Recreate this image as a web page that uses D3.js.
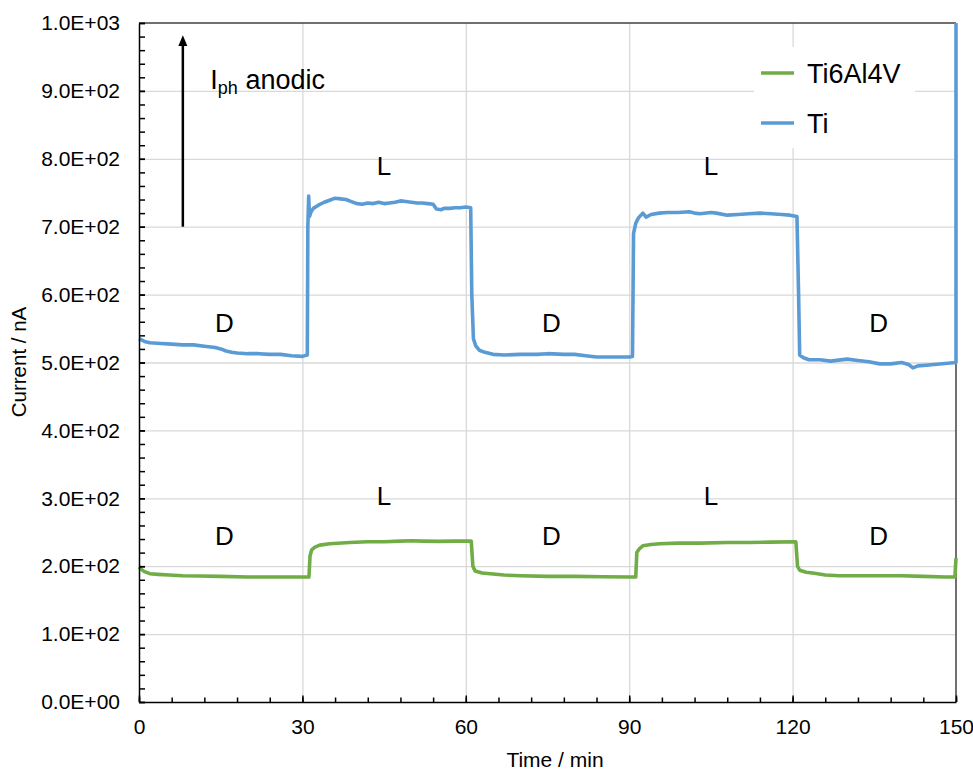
<!DOCTYPE html>
<html>
<head>
<meta charset="utf-8">
<script src="https://cdn.jsdelivr.net/npm/d3@7"></script>
<style>
  body { margin: 0; background: #fff; }
  svg { font-family: "Liberation Sans", Arial, sans-serif; }
</style>
</head>
<body>
<svg id="chart" width="973" height="771"></svg>
<script>
// values
const tiTime = [0, 1, 2, 4, 6, 8, 10, 12, 14, 15, 16, 17, 18, 20, 22, 24, 26, 28, 30, 30.9,
  31.0, 31.15, 31.3, 31.6, 32, 33, 34, 35, 36, 37, 38, 39, 40, 41, 42, 43, 44, 45, 46, 47, 48, 49,
  50, 51, 52, 53, 54, 54.6, 55.5, 56, 57, 58, 59, 60, 60.9, 61.1, 61.4, 61.8, 62.5, 63.5, 65, 67,
  70, 73, 75, 78, 80, 82, 84, 87, 90, 90.6, 90.8, 91.2, 91.7, 92.5, 93.1, 94, 95.5, 97, 99, 101,
  102, 103, 105, 106, 108, 110, 112, 114, 116, 118, 119.5, 120.8, 121.1, 121.3, 122, 123, 125,
  127, 130, 132, 134, 136, 138, 140, 141.3, 142.1, 143, 144.5, 146, 148.5, 150, 150];
const tiCurrent = [535, 531, 529, 528, 527, 526, 526, 524, 522, 520, 517, 515, 514, 513, 513, 512, 512, 510, 509, 511,
  700, 745, 715, 722, 727, 732, 736, 739, 742, 741, 740, 737, 734, 733, 735, 734, 736, 734, 735, 736, 738, 737,
  736, 735, 735, 734, 733, 726, 725, 727, 727, 728, 728, 729, 728, 600, 535, 525, 518, 515, 512, 511,
  512, 512, 513, 512, 512, 510, 508, 508, 508, 509, 690, 705, 713, 720, 714, 718, 720, 721, 721, 722,
  720, 719, 721, 720, 717, 718, 719, 720, 719, 718, 717, 715, 600, 511, 507, 504, 504,
  502, 505, 503, 501, 498, 498, 500, 497, 492, 495, 496, 497, 499, 500, 1000];

const alloyTime = [0, 0.5, 1, 2, 3.5, 5.5, 8, 11, 15, 20, 25, 29, 31.2, 31.4, 31.7, 32.3, 33.2, 35,
  38.7, 42, 45, 48, 50, 52, 55, 58, 61, 61.3, 61.7, 63, 64.5, 67, 70, 75, 80, 85, 90, 91.2, 91.4,
  91.9, 92.5, 94, 95.6, 99, 103, 108, 112, 116, 120.6, 120.9, 121.3, 122.5, 124, 126, 128.6, 132,
  136, 140, 144, 148, 149.8, 150];
const alloyCurrent = [199, 195, 192, 189, 188, 187, 186, 185.5, 185, 184, 184, 184, 184, 215, 224, 228, 231, 233,
  235, 236, 236, 237, 237.5, 237, 236.5, 237, 237, 200, 193, 190, 189, 187, 186, 185, 185, 184.5, 184, 184, 220,
  226, 230, 232, 233, 234, 234, 235, 235, 235.5, 236, 200, 194, 191, 189.5, 187, 186, 186,
  186, 186, 185, 184, 184, 212];

const seriesNames = ["Ti6Al4V", "Ti"];
const seriesColors = ["#70ad47", "#5b9bd5"];

const yMajor = d3.range(0, 1001, 100);
const yMinor = d3.range(0, 1001, 20);
const xMajor = [0, 30, 60, 90, 120, 150];
const xMinor = d3.range(0, 151, 6);

// phase labels: [text, time, current]
const phaseLabels = [
  ["D", 15.7, 545], ["L", 45, 776], ["D", 75.7, 545], ["L", 105, 776], ["D", 135.8, 545],
  ["D", 15.7, 231], ["L", 45, 290], ["D", 75.7, 231], ["L", 105, 290], ["D", 135.8, 231]
];

let svg = d3.select("#chart");
const margin = {left: 139, top: 23, right: 17, bottom: 69};
const width = +svg.attr("width") - margin.left - margin.right;
const height = +svg.attr("height") - margin.top - margin.bottom;

let x = d3.scaleLinear().domain([0, 150]).range([0, width]);
let y = d3.scaleLinear().domain([0, 1000]).range([height, 0]);

let g = svg.append("g").attr("transform", `translate(${margin.left},${margin.top})`);

// grid
g.append("g")
    .attr("class", "grid")
    .call(d3.axisLeft(y).tickValues(yMajor.slice(1, -1)).tickSize(-width).tickFormat(""))
  .call(s => s.select(".domain").remove())
  .call(s => s.selectAll("line").attr("stroke", "#d9d9d9").attr("stroke-width", 1.3));
g.append("g")
    .attr("class", "grid")
    .attr("transform", `translate(0,${height})`)
    .call(d3.axisBottom(x).tickValues(xMajor.slice(1, -1)).tickSize(-height).tickFormat(""))
  .call(s => s.select(".domain").remove())
  .call(s => s.selectAll("line").attr("stroke", "#d9d9d9").attr("stroke-width", 1.3));

// frame top / right
g.append("line").attr("x1", 0).attr("x2", width).attr("y1", 0).attr("y2", 0)
  .attr("stroke", "#404040").attr("stroke-width", 1.5);
g.append("line").attr("x1", width).attr("x2", width).attr("y1", 0).attr("y2", height)
  .attr("stroke", "#404040").attr("stroke-width", 1.5);

// legend box (covers grid)
const legX = 754 - margin.left, legY = 47 - margin.top;
g.append("rect").attr("x", legX).attr("y", legY).attr("width", 161).attr("height", 101)
  .attr("fill", "#fff");

// series
const line = d3.line().x(d => x(d[0])).y(d => y(d[1]));
const alloyData = d3.zip(alloyTime, alloyCurrent);
const tiData = d3.zip(tiTime, tiCurrent);
[alloyData, tiData].forEach((data, i) => {
  g.append("path")
    .datum(data)
    .attr("fill", "none")
    .attr("stroke", seriesColors[i])
    .attr("stroke-width", 3.6)
    .attr("stroke-linejoin", "round")
    .attr("d", line);
});

// axes
let yAxisMinor = g.append("g")
    .call(d3.axisLeft(y).tickValues(yMinor).tickSize(-6).tickFormat(""));
yAxisMinor.select(".domain").remove();
yAxisMinor.selectAll("line").attr("stroke", "#000").attr("stroke-width", 1.5);

const sciFormat = v => {
  if (v === 0) return "0.0E+00";
  const e = Math.floor(Math.log10(v));
  return `${(v / Math.pow(10, e)).toFixed(1)}E+${String(e).padStart(2, "0")}`;
};

let yAxis = g.append("g")
    .call(d3.axisLeft(y).tickValues(yMajor).tickSize(-6).tickSizeOuter(0).tickPadding(19).tickFormat(sciFormat));
yAxis.select(".domain").attr("stroke", "#000").attr("stroke-width", 1.5);
yAxis.selectAll("line").attr("stroke", "#000").attr("stroke-width", 1.5);
yAxis.selectAll("text").attr("font-size", 21).attr("fill", "#000")
  .attr("font-family", "Liberation Sans, Arial, sans-serif");

let xAxisMinor = g.append("g")
    .attr("transform", `translate(0,${height})`)
    .call(d3.axisBottom(x).tickValues(xMinor).tickSize(-4.5).tickFormat(""));
xAxisMinor.select(".domain").remove();
xAxisMinor.selectAll("line").attr("stroke", "#000").attr("stroke-width", 1.5);

let xAxis = g.append("g")
    .attr("transform", `translate(0,${height})`)
    .call(d3.axisBottom(x).tickValues(xMajor).tickSize(-6.5).tickSizeOuter(0).tickPadding(17).tickFormat(d3.format("d")));
xAxis.select(".domain").attr("stroke", "#000").attr("stroke-width", 1.5);
xAxis.selectAll("line").attr("stroke", "#000").attr("stroke-width", 1.5);
xAxis.selectAll("text").attr("font-size", 21).attr("fill", "#000")
  .attr("font-family", "Liberation Sans, Arial, sans-serif");

// axis titles
svg.append("text")
  .attr("transform", "translate(26,362) rotate(-90)")
  .attr("text-anchor", "middle")
  .attr("font-size", 20.5)
  .text("Current / nA");
svg.append("text")
  .attr("x", 555).attr("y", 767)
  .attr("text-anchor", "middle")
  .attr("font-size", 21)
  .text("Time / min");

// legend entries
seriesNames.forEach((name, i) => {
  const ly = 73 - margin.top + i * 50;
  g.append("line")
    .attr("x1", 761 - margin.left).attr("x2", 794 - margin.left)
    .attr("y1", ly).attr("y2", ly)
    .attr("stroke", seriesColors[i]).attr("stroke-width", 3.6);
  g.append("text")
    .attr("x", 807 - margin.left).attr("y", ly + 9.5)
    .attr("font-size", 27)
    .text(name);
});

// D / L labels
g.selectAll(".phase")
  .data(phaseLabels)
  .enter().append("text")
    .attr("class", "phase")
    .attr("x", d => x(d[1]))
    .attr("y", d => y(d[2]))
    .attr("text-anchor", "middle")
    .attr("font-size", 26)
    .text(d => d[0]);

// photocurrent arrow
const arrowT = 8.05;
g.append("line")
  .attr("x1", x(arrowT)).attr("x2", x(arrowT))
  .attr("y1", y(700)).attr("y2", y(970))
  .attr("stroke", "#000").attr("stroke-width", 2.5);
g.append("path")
  .attr("d", `M${x(arrowT)},${y(982)} L${x(arrowT) - 4.5},${y(966)} L${x(arrowT) + 4.5},${y(966)} Z`)
  .attr("fill", "#000");

let iph = g.append("text")
  .attr("x", x(13.1)).attr("y", y(903))
  .attr("font-size", 27);
iph.append("tspan").text("I");
iph.append("tspan").attr("font-size", 18).attr("dy", 5).text("ph");
iph.append("tspan").attr("dy", -5).text(" anodic");
</script>
</body>
</html>
